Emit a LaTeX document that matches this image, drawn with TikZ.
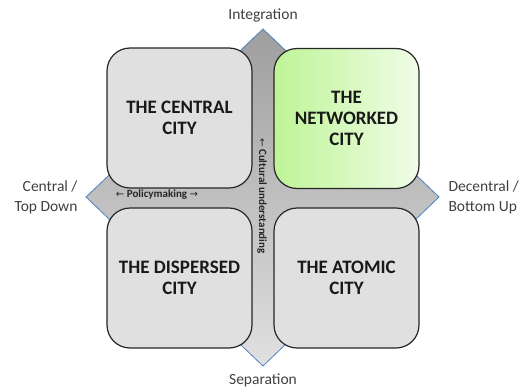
\documentclass[tikz,border=0pt]{standalone}
\usepackage{fontspec}
\setmainfont{Carlito}
\newfontfamily\arrowfont{DejaVu Sans}
\definecolor{edgeblue}{RGB}{79,129,189}
\definecolor{lightgreen}{RGB}{190,244,150}
\definecolor{palegreen}{RGB}{240,253,232}
\newcommand{\leftarr}{{\arrowfont\mdseries\fontsize{10}{12}\selectfont ←}}
\newcommand{\rightarr}{{\arrowfont\mdseries\fontsize{10}{12}\selectfont →}}
\begin{document}
\begin{tikzpicture}[x=1pt,y=-1pt,
  citybox/.style={draw=black!85,line width=1.2pt,rounded corners=23pt,
    minimum width=145pt,minimum height=140pt,inner sep=0pt,
    fill=black!12,align=center,font=\bfseries\fontsize{19}{21}\selectfont,text=black!90},
  greenbox/.style={citybox,fill=none,shading=axis,shading angle=135,
    left color=lightgreen,right color=palegreen},
  axislabel/.style={font=\fontsize{15.5}{20}\selectfont,text=black!75},
  innerlabel/.style={font=\bfseries\fontsize{11}{13}\selectfont,text=black!85}]
\useasboundingbox (0,0) rectangle (526,388);
% background diamond
\coordinate (dtop) at (263,29);
\coordinate (dright) at (439,197);
\coordinate (dbot) at (263,366);
\coordinate (dleft) at (86,197);
\shade[top color=black!38,bottom color=black!12,draw=edgeblue,line width=0.8pt]
  (dtop) -- (dright) -- (dbot) -- (dleft) -- cycle;
% quadrants
\node[citybox] (central) at (179.5,118) {THE CENTRAL\\CITY};
\node[greenbox,draw=black!85] (networked) at (346.5,118.5) {THE\\NETWORKED\\CITY};
\node[citybox] (dispersed) at (179.5,278) {THE DISPERSED\\CITY};
\node[citybox] (atomic) at (346.5,278) {THE ATOMIC\\CITY};
% axis labels
\node[axislabel] (integ) at (263,15) {Integration};
\node[axislabel] (separ) at (263,380) {Separation};
\node[axislabel,align=right,anchor=east] (ctd) at (81,197) {Central /\\Top Down};
\node[axislabel,align=left,anchor=west] (dbu) at (445,197) {Decentral /\\Bottom Up};
% arrows on the diamond
\node[innerlabel] (policy) at (157,195) {\leftarr\ Policymaking \rightarr};
\node[innerlabel,rotate=-90] (culture) at (262,196) {\leftarr\ Cultural understanding};
\end{tikzpicture}
\end{document}
